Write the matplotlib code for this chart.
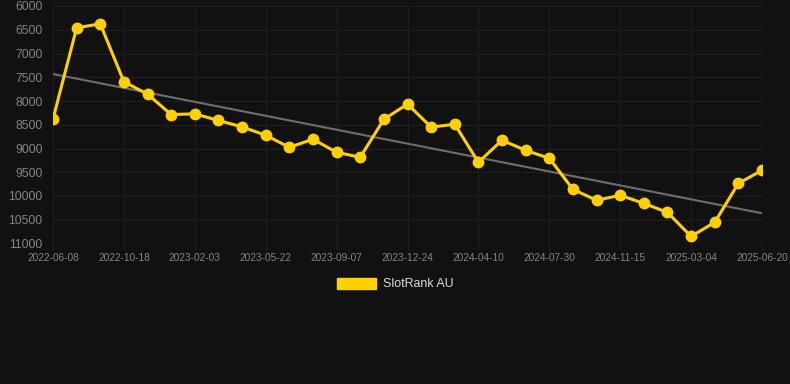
import numpy as np
import matplotlib
matplotlib.use("Agg")
import matplotlib.pyplot as plt
from matplotlib.patches import Patch

# ranks, one point roughly every 36 days
rank = [8380, 6460, 6375, 7595, 7855, 8285, 8270, 8410, 8545, 8720,
        8975, 8805, 9080, 9185, 8385, 8065, 8550, 8490, 9290, 8825,
        9040, 9205, 9860, 10090, 9985, 10155, 10345, 10850, 10555, 9735,
        9460]
tick_dates = ["2022-06-08", "2022-10-18", "2023-02-03", "2023-05-22",
              "2023-09-07", "2023-12-24", "2024-04-10", "2024-07-30",
              "2024-11-15", "2025-03-04", "2025-06-20"]
y_ticks = [6000, 6500, 7000, 7500, 8000, 8500, 9000, 9500, 10000, 10500, 11000]

BG = "#111111"
YELLOW = "#FFD000"
plt.rcParams["font.family"] = ["Liberation Sans", "DejaVu Sans"]

fig = plt.figure(figsize=(7.9, 3.84), dpi=100, facecolor=BG)
ax = fig.add_axes([53 / 790, 1 - 243.5 / 384, 709 / 790, 237.5 / 384], facecolor=BG)

x = np.arange(len(rank))
slope, icpt = np.polyfit(x, rank, 1)
ax.plot(x, slope * x + icpt, color="#6e6e6e", lw=1.5, zorder=2)
ax.plot(x, rank, color=YELLOW, lw=2.2, marker="o", ms=7.5, zorder=3)

ax.set_xlim(0, len(rank) - 1)
ax.set_ylim(11000, 6000)
ax.set_yticks(y_ticks)
ax.set_xticks(x[::3])
ax.set_xticklabels(tick_dates)
ax.tick_params(axis="y", colors="#858585", labelsize=8.8, length=0, pad=7.5)
ax.tick_params(axis="x", labelcolor="#858585", labelsize=7.3, length=4, width=0.8,
               pad=3, color="#222222")
ax.grid(True, color="#1f1f1f", lw=0.8)
for s in ax.spines.values():
    s.set_visible(False)

fig.legend(handles=[Patch(facecolor=YELLOW, edgecolor=YELLOW, label="SlotRank AU")],
           loc="center", bbox_to_anchor=(0.5, 1 - 284 / 384), frameon=False,
           fontsize=8.9, labelcolor="#dddddd", handlelength=3.2,
           handleheight=1.0, handletextpad=0.5)

fig.savefig("out.png", dpi=100, facecolor=BG)
